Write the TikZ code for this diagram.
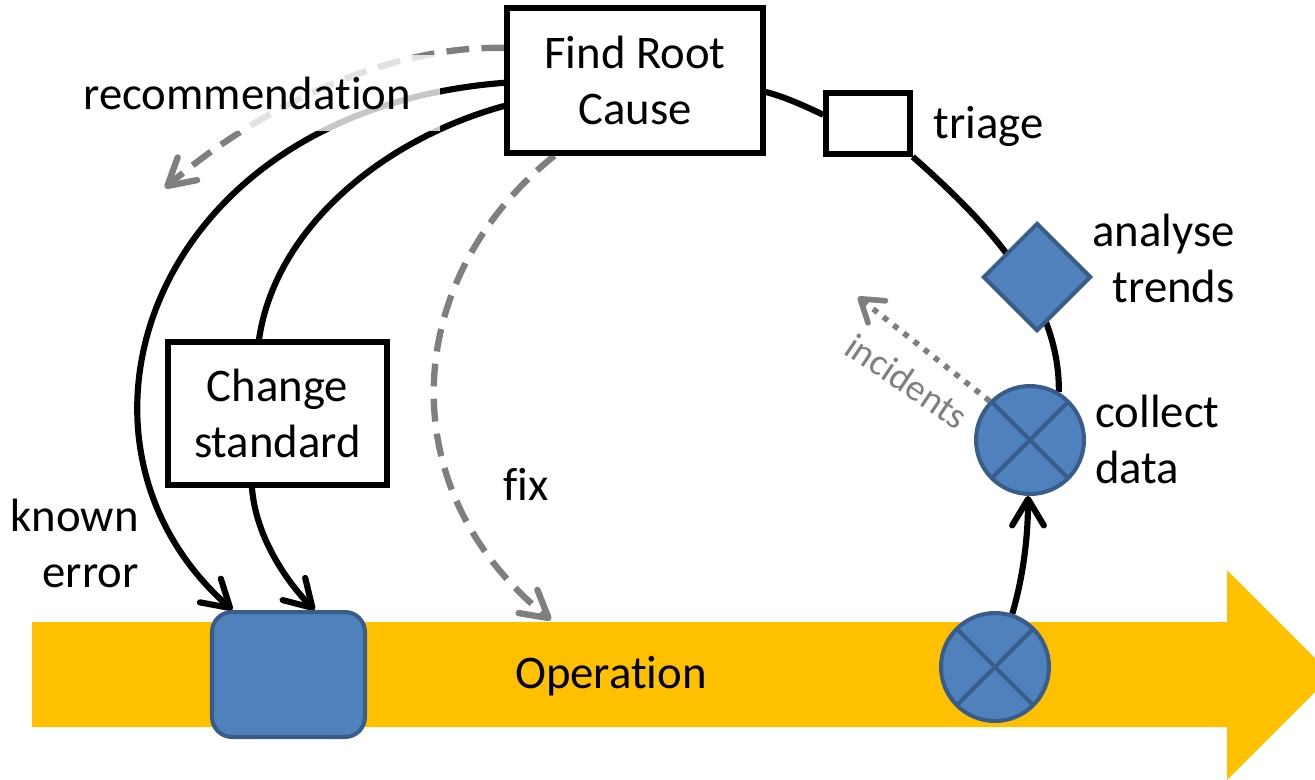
\documentclass[tikz,border=0pt]{standalone}
\usepackage{fontspec}
\setmainfont{Carlito}[Ligatures={NoCommon}]
\usetikzlibrary{arrows.meta,shapes.geometric}
\definecolor{opyellow}{HTML}{FFC000}
\definecolor{nodeblue}{HTML}{4F81BD}
\definecolor{nodeedge}{HTML}{385D8A}
\definecolor{flowgrey}{HTML}{7F7F7F}
\pgfdeclarelayer{back}
\pgfdeclarelayer{mid}
\pgfsetlayers{back,mid,main}

\begin{document}
\begin{tikzpicture}[x=0.02cm,y=-0.02cm,
  every node/.style={font=\fontsize{26.6pt}{31.8pt}\selectfont},
  box/.style={draw,line width=3.1pt,fill=white,align=center,inner sep=0pt},
  blueshape/.style={draw=nodeedge,fill=nodeblue,line width=2.3pt,inner sep=0pt},
  crossed/.style={blueshape,circle,minimum size=2.16cm,
    path picture={\draw[nodeedge,line width=2.3pt]
      (path picture bounding box.north west)--(path picture bounding box.south east)
      (path picture bounding box.north east)--(path picture bounding box.south west);}},
  lbl/.style={inner sep=0pt},
  recbox/.style={fill=white,fill opacity=0.78,text opacity=1,minimum width=7.3cm,
    minimum height=1.52cm,text width=6.98cm,align=left,inner xsep=0.16cm,inner ysep=0pt},
  plain/.style={line width=3.5pt},
  flow/.style={line width=3.5pt,-{Straight Barb[length=15pt,width=18pt,round]}},
  hint/.style={flowgrey,line width=3.6pt,dash pattern=on 13pt off 7pt,
    -{Straight Barb[length=15pt,width=17pt,round]}},
  dothint/.style={flowgrey,line width=3.2pt,dash pattern=on 3.2pt off 4.2pt,
    -{Straight Barb[length=12pt,width=16pt,round]}}
]
\useasboundingbox (0,0) rectangle (1315,779);
\clip (0,0) rectangle (1315,779);

% operation timeline
\begin{pgfonlayer}{back}
  \fill[opyellow] (32,622) -- (1227,622) -- (1227,570) -- (1332,675)
    -- (1227,780) -- (1227,727) -- (32,727) -- cycle;
\end{pgfonlayer}

% steps
\node[box,minimum width=5.12cm,minimum height=2.9cm] (root) at (635,80.5) {Find Root\\Cause};
\node[box,minimum width=1.68cm,minimum height=1.22cm] (triage) at (868,123.5) {};
\node[lbl,anchor=base west] (triagetext) at (933,138) {triage};
\node[box,minimum width=4.38cm,minimum height=2.86cm] (change) at (277.5,413.5) {Change\\standard};
\node[blueshape,rounded corners=0.4cm,minimum width=3.06cm,minimum height=2.5cm] (known) at (288.5,674.5) {};
\node[blueshape,diamond,minimum width=2.16cm,minimum height=2.16cm] (trends) at (1037,277) {};
\node[lbl,align=right,anchor=base east] (trendstext) at (1235,302) {analyse\\trends};
\node[crossed] (collect) at (1030,440) {};
\node[lbl,align=left,anchor=base west] (collecttext) at (1095,483) {collect\\data};
\node[crossed] (opcheck) at (995,667) {};
\node[lbl,anchor=base] (optext) at (611,688) {Operation};
\node[lbl,anchor=base west] (fixtext) at (503,500) {fix};
\node[lbl,align=right,anchor=base east] (ketext) at (139,587) {known\\error};
\node[lbl,text=flowgrey,rotate=-34,font=\fontsize{21.4pt}{25pt}\selectfont] (inctext) at (907,381) {incidents};

\coordinate (fixend) at (551,620);
\coordinate (recend) at (165,188);
\coordinate (incend) at (858,297);

% connectors
\begin{pgfonlayer}{mid}
  \draw[plain] (root.-5) .. controls (785,97) and (805,106) .. (triage.169);
  \draw[plain] (triage.south east) .. controls (990,225) and (1060,300) .. (collect.59);
  \draw[flow] (opcheck.72) .. controls (1025,570) and (1028,530) .. (collect.-92);
  \draw[flow] (root.181) .. controls (150,110) and (40,440) .. (known.131);
  \draw[plain] (root.191) .. controls (380,140) and (275,230) .. (change.104);
  \draw[flow] (change.251) .. controls (256,540) and (290,585) .. (known.68);
  \draw[hint] (root.223) .. controls (400,280) and (390,490) .. (fixend);
  \draw[hint] (root.166) .. controls (380,45) and (250,115) .. (recend);
  \draw[dothint] (collect.136) -- (incend);
\end{pgfonlayer}

\node[recbox,anchor=west] (rectext) at (75,93) {recommendation};
\end{tikzpicture}
\end{document}
